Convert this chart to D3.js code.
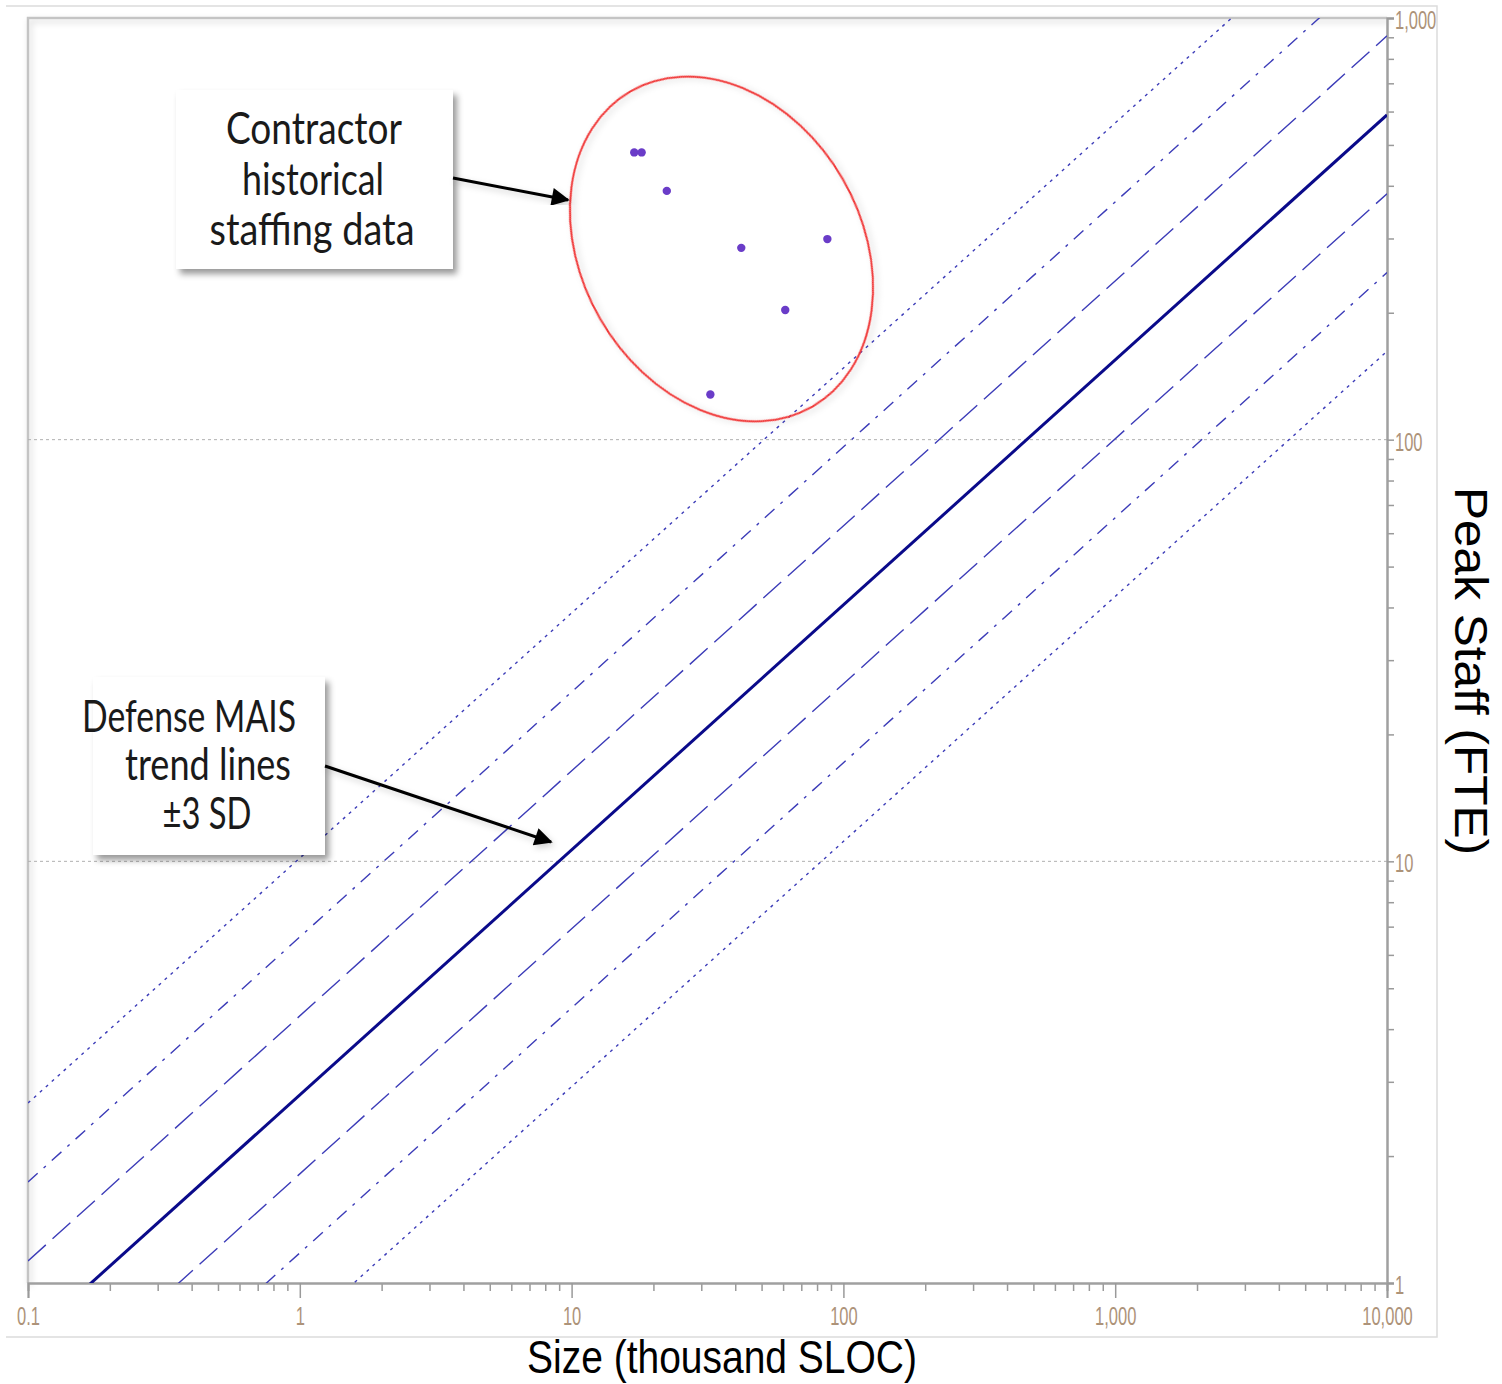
<!DOCTYPE html>
<html>
<head>
<meta charset="utf-8">
<script src="https://cdn.jsdelivr.net/npm/d3@7"></script>
<style>
  body { margin: 0; background: #fff; }
  svg { display: block; }
</style>
</head>
<body>
<div id="chart"></div>
<script>
// ---- data ----
const sizeRange = [0.1, 10000];                 // thousand SLOC, ends of every trend line
const trendNames = ["+3 SD", "+2 SD", "+1 SD", "Trend", "-1 SD", "-2 SD", "-3 SD"];
const trendStaffAtMin = [2.672, 1.736, 1.128, 0.733, 0.476, 0.309, 0.201];
const trendStaffAtMax = [2148, 1396, 907, 589, 383, 249, 162];

const pointSize  = [17.0, 18.1, 22.4, 42.1, 87.3, 61.1, 32.4];
const pointStaff = [480, 480, 389, 285, 299, 203, 128];

const xTicks = [0.1, 1, 10, 100, 1000, 10000];
const xTickLabels = ["0.1", "1", "10", "100", "1,000", "10,000"];
const yTicks = [1, 10, 100, 1000];
const yTickLabels = ["1", "10", "100", "1,000"];
const gridValues = [10, 100];

const W = 1502, H = 1384;
const plotLeft = 28, plotRight = 1387, plotTop = 18, plotBottom = 1283;

const svg = d3.select("#chart")
    .append("svg")
    .attr("width", W)
    .attr("height", H);

const defs = svg.append("defs");

const shadow = defs.append("filter")
    .attr("id", "shadow")
    .attr("x", "-10%").attr("y", "-10%")
    .attr("width", "130%").attr("height", "130%");
shadow.append("feDropShadow")
    .attr("dx", 4).attr("dy", 5)
    .attr("stdDeviation", 3)
    .attr("flood-color", "#000")
    .attr("flood-opacity", 0.4);

const glow = defs.append("filter")
    .attr("id", "glow")
    .attr("x", "-20%").attr("y", "-20%")
    .attr("width", "140%").attr("height", "140%");
glow.append("feDropShadow")
    .attr("dx", 2).attr("dy", 3)
    .attr("stdDeviation", 3)
    .attr("flood-color", "#000")
    .attr("flood-opacity", 0.18);

defs.append("clipPath")
    .attr("id", "plotclip")
    .append("rect")
    .attr("x", plotLeft).attr("y", plotTop)
    .attr("width", plotRight - plotLeft).attr("height", plotBottom - plotTop);

defs.append("marker")
    .attr("id", "arrow")
    .attr("viewBox", "0 0 10 10")
    .attr("refX", 9).attr("refY", 5)
    .attr("markerWidth", 7).attr("markerHeight", 6)
    .attr("markerUnits", "strokeWidth")
    .attr("orient", "auto")
    .append("path")
    .attr("d", "M0,0 L10,5 L0,10 z")
    .attr("fill", "#000");

// outer frame
svg.append("path")
    .attr("d", `M6,6 H1437 V1337 H6`)
    .attr("fill", "none")
    .attr("stroke", "#dcdcdc")
    .attr("stroke-width", 1.5);

const xScale = d3.scaleLog().domain([0.1, 10000]).range([plotLeft, plotRight]);
const yScale = d3.scaleLog().domain([1, 1000]).range([plotBottom, plotTop]);

// plot frame top / left
svg.append("path")
    .attr("d", `M${plotLeft},${plotBottom} V${plotTop} H${plotRight}`)
    .attr("fill", "none")
    .attr("stroke", "#c4c4c4")
    .attr("stroke-width", 2.5)
    .attr("filter", "url(#glow)");

// dotted grid
svg.append("g")
    .selectAll("line")
    .data(gridValues)
    .enter()
    .append("line")
    .attr("x1", plotLeft).attr("x2", plotRight)
    .attr("y1", d => yScale(d)).attr("y2", d => yScale(d))
    .attr("stroke", "#b0b0b0")
    .attr("stroke-width", 1)
    .attr("stroke-dasharray", "3,3");

// minor tick values
const xMinor = [];
for (let e = -1; e < 4; e++) for (let m = 2; m <= 9; m++) xMinor.push(m * Math.pow(10, e));
const yMinor = [];
for (let e = 0; e < 3; e++) for (let m = 2; m <= 9; m++) yMinor.push(m * Math.pow(10, e));

const tickColor = "#ad9379";

const xMinorAxis = svg.append("g")
    .attr("transform", `translate(0, ${plotBottom})`)
    .call(d3.axisBottom(xScale).tickValues(xMinor).tickSize(8).tickFormat(""));
const xMajorAxis = svg.append("g")
    .attr("transform", `translate(0, ${plotBottom})`)
    .call(d3.axisBottom(xScale).tickValues(xTicks).tickSize(15).tickPadding(9)
        .tickFormat((d, i) => xTickLabels[i]));

const yMinorAxis = svg.append("g")
    .attr("transform", `translate(${plotRight}, 0)`)
    .call(d3.axisRight(yScale).tickValues(yMinor).tickSize(7).tickFormat(""));
const yMajorAxis = svg.append("g")
    .attr("transform", `translate(${plotRight}, 0)`)
    .call(d3.axisRight(yScale).tickValues(yTicks).tickSize(7).tickPadding(1)
        .tickFormat((d, i) => yTickLabels[i]));

[xMinorAxis, xMajorAxis, yMinorAxis, yMajorAxis].forEach(g => {
    g.select(".domain").attr("stroke", "#a0a0a0").attr("stroke-width", 2);
    g.selectAll(".tick line").attr("stroke", "#9a9a9a").attr("stroke-width", 1.5);
    g.selectAll(".tick text")
        .attr("fill", tickColor)
        .style("font-family", "'Liberation Sans', Arial, sans-serif")
        .style("font-size", "25px")
        .each(function () {
            // the original labels are drawn in a very narrow face
            const w = this.getComputedTextLength();
            d3.select(this)
                .attr("textLength", w * 0.66)
                .attr("lengthAdjust", "spacingAndGlyphs");
        });
});
yMajorAxis.selectAll(".tick text").attr("dy", "0.42em");

// trend lines
const trendStyle = {
    "+3 SD": { dash: "3,5",        width: 1.4, color: "#3c3cb8" },
    "+2 SD": { dash: "13,8,3,8",   width: 1.4, color: "#3c3cb8" },
    "+1 SD": { dash: "24,9",       width: 1.4, color: "#3c3cb8" },
    "Trend": { dash: null,         width: 3,   color: "#0a0a8a" },
    "-1 SD": { dash: "24,9",       width: 1.4, color: "#3c3cb8" },
    "-2 SD": { dash: "13,8,3,8",   width: 1.4, color: "#3c3cb8" },
    "-3 SD": { dash: "3,5",        width: 1.4, color: "#3c3cb8" }
};

const line = d3.line()
    .x(d => xScale(d[0]))
    .y(d => yScale(d[1]));

svg.append("g")
    .attr("clip-path", "url(#plotclip)")
    .selectAll("path")
    .data(trendNames)
    .enter()
    .append("path")
    .attr("d", (d, i) => line([[sizeRange[0], trendStaffAtMin[i]], [sizeRange[1], trendStaffAtMax[i]]]))
    .attr("fill", "none")
    .attr("stroke", d => trendStyle[d].color)
    .attr("stroke-width", d => trendStyle[d].width)
    .attr("stroke-dasharray", d => trendStyle[d].dash);

// contractor points
svg.append("g")
    .selectAll("circle")
    .data(pointSize)
    .enter()
    .append("circle")
    .attr("cx", d => xScale(d))
    .attr("cy", (d, i) => yScale(pointStaff[i]))
    .attr("r", 4.2)
    .attr("fill", "#6a3cc8");

// red ellipse
svg.append("ellipse")
    .attr("cx", 721.5).attr("cy", 249)
    .attr("rx", 140).attr("ry", 182)
    .attr("transform", "rotate(-30 721.5 249)")
    .attr("fill", "none")
    .attr("stroke", "#f03a3a")
    .attr("stroke-width", 2)
    .attr("filter", "url(#glow)");

// callouts
const calloutFont = "Lato, 'Noto Sans', sans-serif";

function callout(x, y, w, h, lines) {
    svg.append("rect")
        .attr("x", x).attr("y", y)
        .attr("width", w).attr("height", h)
        .attr("fill", "#fff")
        .attr("filter", "url(#shadow)");
    lines.forEach(l => {
        svg.append("text")
            .text(l.text)
            .attr("x", l.cx)
            .attr("y", l.y)
            .attr("text-anchor", "middle")
            .attr("textLength", l.len)
            .attr("lengthAdjust", "spacingAndGlyphs")
            .style("font-family", calloutFont)
            .style("font-size", "44px")
            .attr("fill", "#1a1a1a");
    });
}

callout(176, 90, 277, 179, [
    { text: "Contractor", cx: 314, y: 144, len: 176 },
    { text: "historical", cx: 313, y: 195, len: 142 },
    { text: "staffing data", cx: 312, y: 245, len: 205 }
]);

callout(93, 677, 232, 178, [
    { text: "Defense MAIS", cx: 189, y: 732, len: 214 },
    { text: "trend lines", cx: 208, y: 780, len: 166 },
    { text: "\u00b13 SD", cx: 207, y: 829, len: 89 }
]);

// arrows
svg.append("line")
    .attr("x1", 453).attr("y1", 178)
    .attr("x2", 568).attr("y2", 200)
    .attr("stroke", "#000")
    .attr("stroke-width", 3)
    .attr("marker-end", "url(#arrow)")
    .attr("filter", "url(#glow)");

svg.append("line")
    .attr("x1", 325).attr("y1", 766)
    .attr("x2", 551).attr("y2", 842)
    .attr("stroke", "#000")
    .attr("stroke-width", 3)
    .attr("marker-end", "url(#arrow)")
    .attr("filter", "url(#glow)");

// axis titles
svg.append("text")
    .text("Size (thousand SLOC)")
    .attr("x", 722)
    .attr("y", 1373)
    .attr("text-anchor", "middle")
    .attr("textLength", 390)
    .attr("lengthAdjust", "spacingAndGlyphs")
    .style("font-family", "'Liberation Sans', Arial, sans-serif")
    .style("font-size", "47px")
    .attr("fill", "#000");

svg.append("text")
    .text("Peak Staff (FTE)")
    .attr("transform", "translate(1455, 671) rotate(90)")
    .attr("text-anchor", "middle")
    .attr("textLength", 368)
    .attr("lengthAdjust", "spacingAndGlyphs")
    .style("font-family", "'Liberation Sans', Arial, sans-serif")
    .style("font-size", "46px")
    .attr("fill", "#000");
</script>
</body>
</html>
